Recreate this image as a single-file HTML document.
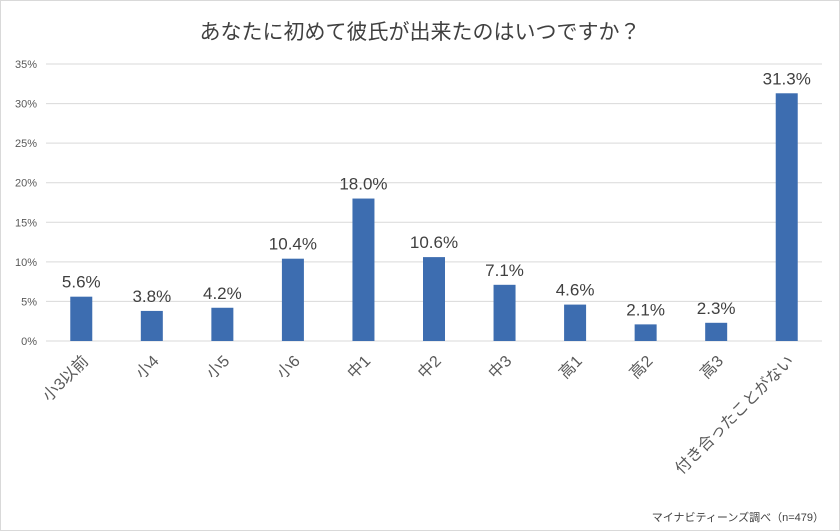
<!DOCTYPE html>
<html><head><meta charset="utf-8"><style>
body{margin:0;background:#fff}
svg{display:block;font-family:"Liberation Sans","Noto Sans CJK JP",sans-serif}
</style></head><body>
<svg id="c" width="840" height="531">
<rect x="0.5" y="0.5" width="839" height="530" fill="#fff" stroke="#d9d9d9"/>
<text x="420" y="39" text-anchor="middle" font-size="21" fill="#404040">あなたに初めて彼氏が出来たのはいつですか？</text>
<g id="grid"></g><g id="bars"></g>
<text x="824" y="521" text-anchor="end" font-size="11" fill="#404040">マイナビティーンズ調べ（n=479）</text>
</svg>
<script>
const categories=["小3以前","小4","小5","小6","中1","中2","中3","高1","高2","高3","付き合ったことがない"];
const values=[5.6,3.8,4.2,10.4,18.0,10.6,7.1,4.6,2.1,2.3,31.3];
const ticks=[0,5,10,15,20,25,30,35];
const NS="http://www.w3.org/2000/svg";
const x0=46,x1=822,y0=341,yMax=35,yTop=64;
const step=(x1-x0)/categories.length;
const y=v=>y0-(v/yMax)*(y0-yTop);
const xc=i=>x0+step*(i+0.5);
const grid=document.getElementById('grid'),bars=document.getElementById('bars');
function mk(t,a,p){const e=document.createElementNS(NS,t);for(const k in a)e.setAttribute(k,a[k]);p.appendChild(e);return e;}
ticks.forEach(t=>{
 const l=mk('line',{x1:x0,x2:x1,y1:y(t),y2:y(t),stroke:'#d9d9d9','stroke-width':1},grid);
 
 
 const tx=mk('text',{x:37,y:y(t)+4,'text-anchor':'end','font-size':11,fill:'#595959'},grid);
 tx.textContent=t+'%';
 
 
});
categories.forEach((c,i)=>{
 const v=values[i],cx=xc(i);
 const r=mk('rect',{x:cx-11,y:y(v),width:22,height:y0-y(v),fill:'#3d6db0'},bars);
 
 
 const lb=mk('text',{x:cx,y:y(v)-9,'text-anchor':'middle','font-size':17,fill:'#404040'},bars);
 lb.textContent=v.toFixed(1)+'%';
 
 
 const ax=cx+8,ay=362;
 const cl=mk('text',{x:ax,y:ay,'text-anchor':'end','font-size':16,fill:'#595959',transform:`rotate(-45 ${ax} ${ay})`},bars);
 cl.textContent=c;
 
 
});
</script>
</body></html>
